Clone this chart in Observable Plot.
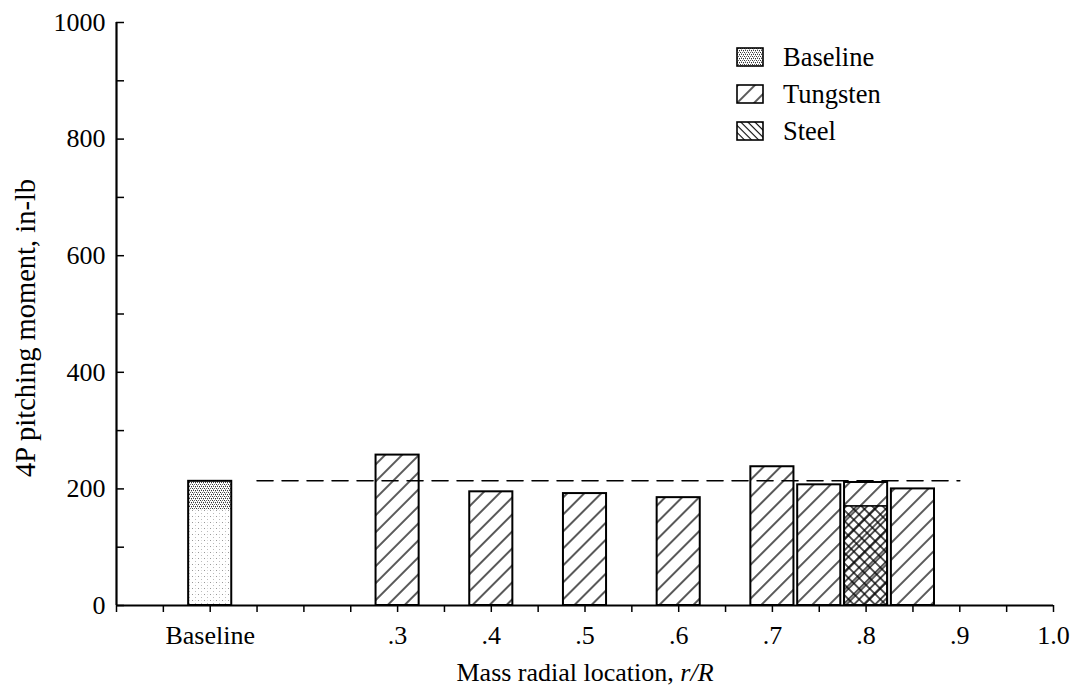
<!DOCTYPE html>
<html>
<head>
<meta charset="utf-8">
<script src="https://cdn.jsdelivr.net/npm/d3@7"></script>
<script src="https://cdn.jsdelivr.net/npm/@observablehq/plot@0.6"></script>
<style>
html, body { margin: 0; padding: 0; background: #fff; }
#wrap { position: relative; width: 1076px; height: 691px; color: #000; }
</style>
</head>
<body>
<svg width="0" height="0" style="position:absolute">
  <defs>
    <pattern id="tung" patternUnits="userSpaceOnUse" width="12" height="12" patternTransform="rotate(45)">
      <line x1="6" y1="-1" x2="6" y2="13" stroke="#000" stroke-width="1.3"/>
    </pattern>
    <pattern id="steelLeg" patternUnits="userSpaceOnUse" width="5" height="5" patternTransform="rotate(-45)">
      <line x1="2.5" y1="-1" x2="2.5" y2="6" stroke="#000" stroke-width="1.1"/>
    </pattern>
    <pattern id="cross" patternUnits="userSpaceOnUse" width="7.5" height="7.5" patternTransform="rotate(45)">
      <line x1="3.75" y1="-1" x2="3.75" y2="8.5" stroke="#000" stroke-width="1.3"/>
      <line x1="-1" y1="3.75" x2="8.5" y2="3.75" stroke="#000" stroke-width="1.3"/>
    </pattern>
    <pattern id="stipDark" patternUnits="userSpaceOnUse" width="4" height="4">
      <rect width="4" height="4" fill="#fff"/>
      <rect x="0" y="0" width="1" height="1" fill="#333"/>
      <rect x="2" y="0" width="1" height="1" fill="#666"/>
      <rect x="1" y="2" width="1" height="1" fill="#444"/>
      <rect x="3" y="2" width="1" height="1" fill="#333"/>
      <rect x="1" y="1" width="1" height="1" fill="#aaa"/>
      <rect x="3" y="3" width="1" height="1" fill="#bbb"/>
    </pattern>
    <pattern id="stipLight" patternUnits="userSpaceOnUse" width="6" height="6">
      <rect width="6" height="6" fill="#fff"/>
      <rect x="0" y="0" width="1" height="1" fill="#999"/>
      <rect x="3" y="3" width="1" height="1" fill="#bbb"/>
      <rect x="3" y="0" width="1" height="1" fill="#ddd"/>
    </pattern>
  </defs>
</svg>
<div id="wrap"></div>
<script>
// ---- data ----
const xTickValues = [0.1, 0.3, 0.4, 0.5, 0.6, 0.7, 0.8, 0.9, 1.0];
const xTickLabels = ["Baseline", ".3", ".4", ".5", ".6", ".7", ".8", ".9", "1.0"];
const yTickLabels = [0, 200, 400, 600, 800, 1000];

const baselinePosition = [0.1];
const baselineTotal = [213];
const baselineDarkFrom = [164];

const tungstenPositions = [0.3, 0.4, 0.5, 0.6, 0.7, 0.75, 0.8, 0.85];
const tungstenValues = [258, 195, 192, 185, 238, 207, 211, 200];

const steelPositions = [0.8];
const steelValues = [170];

const referenceX = [0.15, 0.9];
const referenceY = [214, 214];

const legendLabels = ["Baseline", "Tungsten", "Steel"];
const xTitle = "Mass radial location, r/R";
const yTitle = "4P pitching moment, in-lb";

// ---- tables ----
const halfW = 0.023;
const baselineData = baselinePosition.map((p, i) => ({pos: p, total: baselineTotal[i], lower: baselineDarkFrom[i]}));
const tungsten = tungstenPositions.map((p, i) => ({pos: p, value: tungstenValues[i]}));
const steel = steelPositions.map((p, i) => ({pos: p, value: steelValues[i]}));
const refData = referenceX.map((x, i) => ({x, y: referenceY[i]}));

const xAllTicks = d3.range(0, 21).map(i => i / 20);
const yAllTicks = d3.range(0, 1001, 100);
const xLabelMap = new Map(xTickValues.map((v, i) => [Math.round(v * 20), xTickLabels[i]]));
const ySet = new Set(yTickLabels);

const FONT = '"Liberation Serif", "Times New Roman", serif';
const FS = 26;
const chart = Plot.plot({
  width: 1076,
  height: 691,
  marginLeft: 116,
  marginRight: 23,
  marginTop: 22,
  marginBottom: 86,
  style: {fontFamily: FONT, fontSize: FS + "px", background: "#fff", color: "#000", overflow: "visible"},
  x: {domain: [0, 1], label: null},
  y: {domain: [0, 1000], label: null},
  marks: [
    Plot.rectY(baselineData, {x1: d => d.pos - halfW, x2: d => d.pos + halfW, y1: 0, y2: d => d.lower, fill: "url(#stipLight)"}),
    Plot.rectY(baselineData, {x1: d => d.pos - halfW, x2: d => d.pos + halfW, y1: d => d.lower, y2: d => d.total, fill: "url(#stipDark)"}),
    Plot.rectY(baselineData, {x1: d => d.pos - halfW, x2: d => d.pos + halfW, y1: 0, y2: d => d.total, fill: "none", stroke: "#000", strokeWidth: 2}),
    Plot.rectY(tungsten, {x1: d => d.pos - halfW, x2: d => d.pos + halfW, y1: 0, y2: d => d.value, fill: "url(#tung)", stroke: "#000", strokeWidth: 2}),
    Plot.rectY(steel, {x1: d => d.pos - halfW, x2: d => d.pos + halfW, y1: 0, y2: d => d.value, fill: "url(#cross)", stroke: "#000", strokeWidth: 1.6}),
    Plot.line(refData, {x: "x", y: "y", stroke: "#000", strokeWidth: 1.6, strokeDasharray: "16,9"}),
    Plot.ruleY([0], {stroke: "#000", strokeWidth: 2}),
    Plot.ruleX([0], {stroke: "#000", strokeWidth: 2.2}),
    Plot.axisX({ticks: xAllTicks, tickSize: 7, tickPadding: 13, tickFormat: d => xLabelMap.get(Math.round(d * 20)) ?? "", fontSize: FS, label: null, strokeWidth: 1.5}),
    Plot.axisY({ticks: yAllTicks, tickSize: -8, tickPadding: 19, tickFormat: d => ySet.has(d) ? String(d) : "", fontSize: FS, label: null, strokeWidth: 1.5}),
    Plot.text([xTitle], {text: d => d, frameAnchor: "bottom", dy: 67, fontSize: FS, lineAnchor: "middle", textAnchor: "middle", fill: "#000"}),
    Plot.text([yTitle], {text: d => d, frameAnchor: "left", dx: -91, dy: 14, rotate: -90, fontSize: 28.5, lineAnchor: "middle", textAnchor: "middle", fill: "#000"})
  ]
});

const ns = "http://www.w3.org/2000/svg";
// italic r/R in x title
chart.querySelectorAll("text").forEach(t => {
  if (t.textContent === xTitle) {
    t.textContent = "";
    const a = document.createElementNS(ns, "tspan");
    a.textContent = "Mass radial location, ";
    const b = document.createElementNS(ns, "tspan");
    b.setAttribute("font-style", "italic");
    b.textContent = "r/R";
    t.appendChild(a); t.appendChild(b);
  }
});

// legend drawn inside the chart svg
const legendFills = ["url(#stipDark)", "url(#tung)", "url(#steelLeg)"];
const legendTop = 48, legendStep = 37;
const lg = document.createElementNS(ns, "g");
lg.setAttribute("font-family", FONT);
lg.setAttribute("font-size", "26.5");
lg.setAttribute("text-anchor", "start");
legendLabels.forEach((lab, i) => {
  const cy = legendTop + 9 + i * legendStep;
  const r = document.createElementNS(ns, "rect");
  r.setAttribute("x", 737); r.setAttribute("y", cy - 9);
  r.setAttribute("width", 26); r.setAttribute("height", 18);
  r.setAttribute("fill", legendFills[i]); r.setAttribute("stroke", "#000"); r.setAttribute("stroke-width", 1.6);
  lg.appendChild(r);
  const t = document.createElementNS(ns, "text");
  t.setAttribute("x", 783); t.setAttribute("y", cy + 9);
  t.setAttribute("fill", "#000");
  t.setAttribute("text-anchor", "start");
  t.textContent = lab;
  lg.appendChild(t);
});
chart.appendChild(lg);

const wrap = document.getElementById("wrap");
wrap.appendChild(chart);
chart.style.display = "block";
</script>
</body>
</html>
